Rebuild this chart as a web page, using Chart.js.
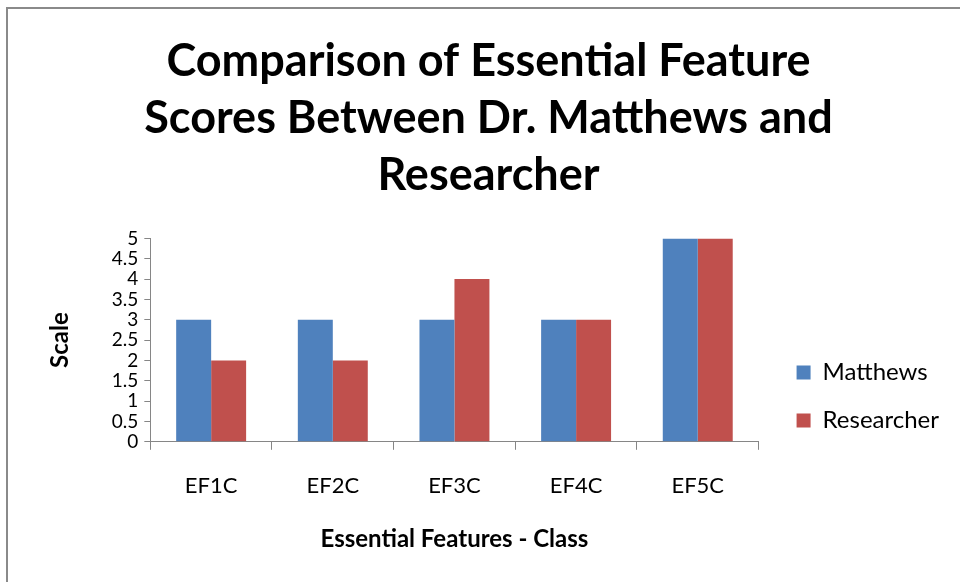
<!DOCTYPE html>
<html>
<head>
<meta charset="utf-8">
<script src="https://cdn.jsdelivr.net/npm/chart.js@4"></script>
<style>
  html, body { margin: 0; padding: 0; background: #fff; }
  .frame {
    position: absolute; left: 6px; top: 7px;
    width: 952px; height: 573px;
    border-left: 2px solid #8a8a8a; border-top: 2px solid #8a8a8a;
  }
</style>
</head>
<body>
<div class="frame"><canvas id="chart" width="952" height="573"></canvas></div>
<script>
// Data
const categories = ["EF1C", "EF2C", "EF3C", "EF4C", "EF5C"];
const matthews = [3, 3, 3, 3, 5];
const researcher = [2, 2, 4, 3, 5];
const seriesNames = ["Matthews", "Researcher"];

const font = "Lato, 'Open Sans', sans-serif";
const axisGray = "#868686";

// Move the legend down and away from the plot, like the Excel layout
const legendShift = {
  id: "legendShift",
  afterLayout(chart) {
    const lg = chart.legend;
    lg.left += 14; lg.right += 14;
    lg.top += 113; lg.bottom += 113;
  },
};

const config = {
  type: "bar",
  data: {
    labels: categories,
    datasets: [
      { label: seriesNames[0], data: matthews, backgroundColor: "#4F81BD" },
      { label: seriesNames[1], data: researcher, backgroundColor: "#C0504D" },
    ],
  },
  options: {
    responsive: false,
    animation: false,
    layout: { padding: { left: 34, right: 25, top: 0, bottom: 24 } },
    datasets: { bar: { categoryPercentage: 0.575, barPercentage: 1 } },
    plugins: {
      title: {
        display: true,
        text: ["Comparison of Essential Feature", "Scores Between Dr. Matthews and", "Researcher"],
        color: "#000",
        font: { family: font, size: 45, weight: "bold", lineHeight: 1.27 },
        padding: { top: 24, bottom: 34 },
      },
      legend: {
        position: "right",
        labels: {
          color: "#000",
          font: { family: font, size: 24 },
          boxWidth: 14, boxHeight: 14,
          padding: 24,
        },
      },
      tooltip: { enabled: false },
    },
    scales: {
      x: {
        grid: { offset: true, drawOnChartArea: false, tickLength: 8, color: axisGray },
        border: { color: axisGray },
        ticks: { color: "#000", font: { family: font, size: 22 }, padding: 23 },
        title: {
          display: true, text: "Essential Features - Class", color: "#000",
          font: { family: font, size: 24, weight: "bold" }, padding: { top: 3 },
        },
      },
      y: {
        min: 0, max: 5,
        grid: { drawOnChartArea: false, tickLength: 6, color: axisGray },
        border: { color: axisGray },
        ticks: {
          stepSize: 0.5, autoSkip: false, color: "#000", padding: 6,
          font: { family: font, size: 19, lineHeight: 1 },
          callback: (v) => String(v),
        },
        title: {
          display: true, text: "Scale", color: "#000",
          font: { family: font, size: 24, weight: "bold" }, padding: { bottom: 31 },
        },
      },
    },
  },
  plugins: [legendShift],
};

new Chart(document.querySelector("#chart"), config);
</script>
</body>
</html>
